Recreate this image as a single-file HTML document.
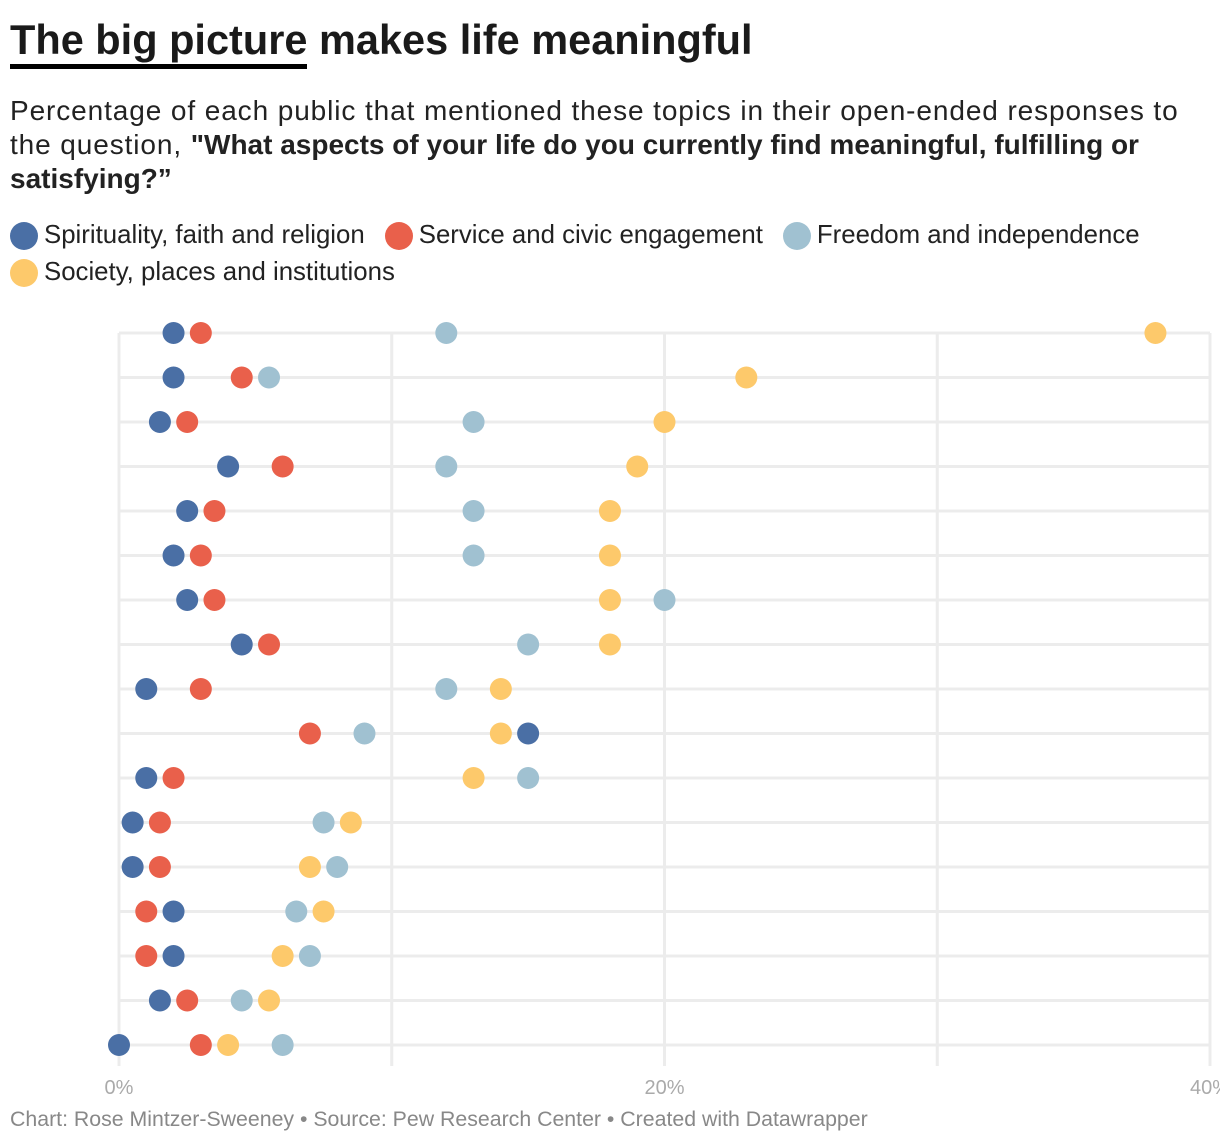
<!DOCTYPE html>
<html><head><meta charset="utf-8"><style>
body{margin:0;width:1220px;height:1146px;background:#fff;font-family:"Liberation Sans",Roboto,sans-serif;overflow:hidden;position:relative}
.t{position:absolute;left:10px;top:16px;font-size:41.5px;font-weight:bold;color:#1a1a1a;white-space:nowrap}
.t u{text-decoration:none;border-bottom:5px solid #000;padding-bottom:1px}
.s{position:absolute;left:10px;top:94px;font-size:28px;line-height:34px;color:#222;white-space:nowrap;letter-spacing:0.9px}
.s b{letter-spacing:0}
.lg{position:absolute;left:10px;font-size:25.8px;color:#222;display:flex;gap:20px;white-space:nowrap}
.lg span{display:flex;align-items:center}
.lg i{display:inline-block;width:28px;height:28px;border-radius:50%;margin-right:6px}
.f{position:absolute;left:10px;top:1107px;font-size:21.3px;color:#888;white-space:nowrap}
</style></head><body>
<div class="t"><u>The big picture</u> makes life meaningful</div>
<div class="s">Percentage of each public that mentioned these topics in their open-ended responses to<br>the question, <b>"What aspects of your life do you currently find meaningful, fulfilling or</b><br><b>satisfying?”</b></div>
<div class="lg" style="top:221px">
<span><i style="background:#4a6fa5"></i>Spirituality, faith and religion</span>
<span><i style="background:#e9604b"></i>Service and civic engagement</span>
<span><i style="background:#a0c1d1"></i>Freedom and independence</span></div>
<div class="lg" style="top:258px">
<span><i style="background:#fdc96b"></i>Society, places and institutions</span></div>
<svg id="c" width="1220" height="1146" style="position:absolute;left:0;top:0"></svg>
<div class="f">Chart: Rose Mintzer-Sweeney • Source: Pew Research Center • Created with Datawrapper</div>
<script>
const spirituality=[2,2,1.5,4,2.5,2,2.5,4.5,1,15,1,0.5,0.5,2,2,1.5,0];
const service=[3,4.5,2.5,6,3.5,3,3.5,5.5,3,7,2,1.5,1.5,1,1,2.5,3];
const freedom=[12,5.5,13,12,13,13,20,15,12,9,15,7.5,8,6.5,7,4.5,6];
const society=[38,23,20,19,18,18,18,18,14,14,13,8.5,7,7.5,6,5.5,4];
const ticks=[0,10,20,30,40];
const tickLabels=["0%","","20%","","40%"];
const svg=document.getElementById('c');const NS='http://www.w3.org/2000/svg';
const x=v=>119+v*(1210-119)/40;
const y=i=>333+i*44.5;
function mk(t,a){const e=document.createElementNS(NS,t);for(const k in a)e.setAttribute(k,a[k]);svg.appendChild(e);return e;}
ticks.forEach((t,i)=>{
const l=mk('line',{x1:x(t),x2:x(t),y1:333,y2:1066,stroke:'#ececec','stroke-width':3});


if(tickLabels[i]){const tx=mk('text',{x:x(t),y:1094,'font-size':20,fill:'#aaa','text-anchor':'middle','font-family':'Liberation Sans,sans-serif'});tx.textContent=tickLabels[i];

}
});
spirituality.forEach((_,i)=>{
const l=mk('line',{x1:119,x2:1210,y1:y(i),y2:y(i),stroke:'#ececec','stroke-width':3});


});
const series=[[spirituality,'#4a6fa5','spirituality'],[service,'#e9604b','service'],[freedom,'#a0c1d1','freedom'],[society,'#fdc96b','society']];
series.forEach(([arr,col,n])=>arr.forEach((v,i)=>{
const c=mk('circle',{cx:x(v),cy:y(i),r:11,fill:col});


}));
</script>
</body></html>
